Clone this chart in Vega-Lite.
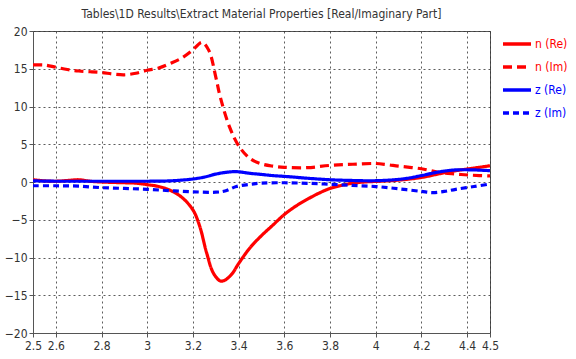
{
  "$schema": "https://vega.github.io/schema/vega-lite/v6.json",
  "autosize": "none",
  "width": 457,
  "height": 302,
  "padding": {"left": 33, "top": 31, "right": 86, "bottom": 26},
  "background": "white",
  "title": {"text": "Tables\\1D Results\\Extract Material Properties [Real/Imaginary Part]", "fontSize": 12, "fontWeight": "normal", "color": "#333333", "font": "DejaVu Sans Condensed", "anchor": "middle", "offset": 4},
  "config": {
    "view": {"stroke": "#555555", "strokeWidth": 1},
    "axis": {"labelFont": "DejaVu Sans Condensed", "labelFontSize": 12, "labelColor": "#333333", "domainColor": "#555555", "tickColor": "#555555", "tickSize": 4, "gridColor": "#333333", "gridDash": [2, 3], "gridOpacity": 0.8, "title": null},
    "legend": {"labelFont": "DejaVu Sans Condensed", "labelFontSize": 12}
  },
  "data": {"values": [
    {"x": 2.5, "y": 0.3, "s": "n (Re)"}, {"x": 2.55, "y": 0.15, "s": "n (Re)"}, {"x": 2.6, "y": 0.1, "s": "n (Re)"}, {"x": 2.65, "y": 0.2, "s": "n (Re)"}, {"x": 2.7, "y": 0.3, "s": "n (Re)"}, {"x": 2.75, "y": 0.1, "s": "n (Re)"}, {"x": 2.8, "y": 0.0, "s": "n (Re)"}, {"x": 2.9, "y": -0.1, "s": "n (Re)"}, {"x": 2.95, "y": -0.15, "s": "n (Re)"}, {"x": 3.0, "y": -0.35, "s": "n (Re)"}, {"x": 3.05, "y": -0.6, "s": "n (Re)"}, {"x": 3.1, "y": -1.1, "s": "n (Re)"}, {"x": 3.15, "y": -2.0, "s": "n (Re)"}, {"x": 3.2, "y": -3.7, "s": "n (Re)"}, {"x": 3.23, "y": -5.9, "s": "n (Re)"}, {"x": 3.26, "y": -9.4, "s": "n (Re)"}, {"x": 3.29, "y": -12.1, "s": "n (Re)"}, {"x": 3.32, "y": -13.1, "s": "n (Re)"}, {"x": 3.34, "y": -13.0, "s": "n (Re)"}, {"x": 3.37, "y": -12.2, "s": "n (Re)"}, {"x": 3.4, "y": -10.8, "s": "n (Re)"}, {"x": 3.45, "y": -8.7, "s": "n (Re)"}, {"x": 3.5, "y": -7.1, "s": "n (Re)"}, {"x": 3.55, "y": -5.7, "s": "n (Re)"}, {"x": 3.6, "y": -4.3, "s": "n (Re)"}, {"x": 3.65, "y": -3.2, "s": "n (Re)"}, {"x": 3.7, "y": -2.3, "s": "n (Re)"}, {"x": 3.75, "y": -1.5, "s": "n (Re)"}, {"x": 3.8, "y": -0.85, "s": "n (Re)"}, {"x": 3.85, "y": -0.45, "s": "n (Re)"}, {"x": 3.9, "y": -0.15, "s": "n (Re)"}, {"x": 3.95, "y": 0.0, "s": "n (Re)"}, {"x": 4.0, "y": 0.08, "s": "n (Re)"}, {"x": 4.1, "y": 0.25, "s": "n (Re)"}, {"x": 4.2, "y": 0.6, "s": "n (Re)"}, {"x": 4.28, "y": 1.1, "s": "n (Re)"}, {"x": 4.35, "y": 1.5, "s": "n (Re)"}, {"x": 4.42, "y": 1.8, "s": "n (Re)"}, {"x": 4.5, "y": 2.15, "s": "n (Re)"},
    {"x": 2.5, "y": 15.5, "s": "n (Im)"}, {"x": 2.55, "y": 15.5, "s": "n (Im)"}, {"x": 2.6, "y": 15.2, "s": "n (Im)"}, {"x": 2.65, "y": 14.9, "s": "n (Im)"}, {"x": 2.7, "y": 14.7, "s": "n (Im)"}, {"x": 2.75, "y": 14.6, "s": "n (Im)"}, {"x": 2.8, "y": 14.5, "s": "n (Im)"}, {"x": 2.85, "y": 14.3, "s": "n (Im)"}, {"x": 2.9, "y": 14.2, "s": "n (Im)"}, {"x": 2.95, "y": 14.4, "s": "n (Im)"}, {"x": 3.0, "y": 14.8, "s": "n (Im)"}, {"x": 3.05, "y": 15.1, "s": "n (Im)"}, {"x": 3.1, "y": 15.7, "s": "n (Im)"}, {"x": 3.15, "y": 16.4, "s": "n (Im)"}, {"x": 3.2, "y": 17.5, "s": "n (Im)"}, {"x": 3.24, "y": 18.5, "s": "n (Im)"}, {"x": 3.27, "y": 17.4, "s": "n (Im)"}, {"x": 3.3, "y": 13.9, "s": "n (Im)"}, {"x": 3.32, "y": 11.2, "s": "n (Im)"}, {"x": 3.36, "y": 7.3, "s": "n (Im)"}, {"x": 3.4, "y": 4.8, "s": "n (Im)"}, {"x": 3.45, "y": 3.1, "s": "n (Im)"}, {"x": 3.5, "y": 2.4, "s": "n (Im)"}, {"x": 3.55, "y": 2.1, "s": "n (Im)"}, {"x": 3.6, "y": 1.95, "s": "n (Im)"}, {"x": 3.7, "y": 1.9, "s": "n (Im)"}, {"x": 3.8, "y": 2.2, "s": "n (Im)"}, {"x": 3.9, "y": 2.35, "s": "n (Im)"}, {"x": 4.0, "y": 2.45, "s": "n (Im)"}, {"x": 4.05, "y": 2.3, "s": "n (Im)"}, {"x": 4.1, "y": 2.1, "s": "n (Im)"}, {"x": 4.2, "y": 1.75, "s": "n (Im)"}, {"x": 4.28, "y": 1.25, "s": "n (Im)"}, {"x": 4.35, "y": 1.05, "s": "n (Im)"}, {"x": 4.42, "y": 0.9, "s": "n (Im)"}, {"x": 4.5, "y": 0.8, "s": "n (Im)"},
    {"x": 2.5, "y": 0.15, "s": "z (Re)"}, {"x": 2.6, "y": 0.1, "s": "z (Re)"}, {"x": 2.7, "y": 0.1, "s": "z (Re)"}, {"x": 2.8, "y": 0.1, "s": "z (Re)"}, {"x": 2.9, "y": 0.1, "s": "z (Re)"}, {"x": 3.0, "y": 0.1, "s": "z (Re)"}, {"x": 3.1, "y": 0.15, "s": "z (Re)"}, {"x": 3.15, "y": 0.25, "s": "z (Re)"}, {"x": 3.2, "y": 0.4, "s": "z (Re)"}, {"x": 3.25, "y": 0.65, "s": "z (Re)"}, {"x": 3.3, "y": 1.05, "s": "z (Re)"}, {"x": 3.35, "y": 1.3, "s": "z (Re)"}, {"x": 3.39, "y": 1.37, "s": "z (Re)"}, {"x": 3.45, "y": 1.15, "s": "z (Re)"}, {"x": 3.5, "y": 1.0, "s": "z (Re)"}, {"x": 3.55, "y": 0.85, "s": "z (Re)"}, {"x": 3.62, "y": 0.7, "s": "z (Re)"}, {"x": 3.7, "y": 0.5, "s": "z (Re)"}, {"x": 3.8, "y": 0.3, "s": "z (Re)"}, {"x": 3.9, "y": 0.2, "s": "z (Re)"}, {"x": 4.0, "y": 0.17, "s": "z (Re)"}, {"x": 4.1, "y": 0.35, "s": "z (Re)"}, {"x": 4.15, "y": 0.55, "s": "z (Re)"}, {"x": 4.2, "y": 0.85, "s": "z (Re)"}, {"x": 4.28, "y": 1.35, "s": "z (Re)"}, {"x": 4.35, "y": 1.6, "s": "z (Re)"}, {"x": 4.43, "y": 1.6, "s": "z (Re)"}, {"x": 4.5, "y": 1.5, "s": "z (Re)"},
    {"x": 2.5, "y": -0.5, "s": "z (Im)"}, {"x": 2.6, "y": -0.5, "s": "z (Im)"}, {"x": 2.7, "y": -0.55, "s": "z (Im)"}, {"x": 2.8, "y": -0.75, "s": "z (Im)"}, {"x": 2.9, "y": -0.85, "s": "z (Im)"}, {"x": 3.0, "y": -0.97, "s": "z (Im)"}, {"x": 3.1, "y": -1.15, "s": "z (Im)"}, {"x": 3.2, "y": -1.3, "s": "z (Im)"}, {"x": 3.3, "y": -1.35, "s": "z (Im)"}, {"x": 3.34, "y": -1.2, "s": "z (Im)"}, {"x": 3.39, "y": -0.6, "s": "z (Im)"}, {"x": 3.45, "y": -0.3, "s": "z (Im)"}, {"x": 3.5, "y": -0.15, "s": "z (Im)"}, {"x": 3.6, "y": -0.1, "s": "z (Im)"}, {"x": 3.7, "y": -0.17, "s": "z (Im)"}, {"x": 3.8, "y": -0.3, "s": "z (Im)"}, {"x": 3.9, "y": -0.45, "s": "z (Im)"}, {"x": 4.0, "y": -0.6, "s": "z (Im)"}, {"x": 4.1, "y": -0.9, "s": "z (Im)"}, {"x": 4.2, "y": -1.25, "s": "z (Im)"}, {"x": 4.25, "y": -1.4, "s": "z (Im)"}, {"x": 4.3, "y": -1.25, "s": "z (Im)"}, {"x": 4.35, "y": -0.97, "s": "z (Im)"}, {"x": 4.43, "y": -0.6, "s": "z (Im)"}, {"x": 4.5, "y": -0.26, "s": "z (Im)"}
  ]},
  "mark": {"type": "line", "interpolate": "catmull-rom", "strokeWidth": 3.2, "clip": true},
  "encoding": {
    "x": {"field": "x", "type": "quantitative", "scale": {"domain": [2.5, 4.5], "nice": false, "zero": false}, "axis": {"values": [2.5, 2.6, 2.8, 3, 3.2, 3.4, 3.6, 3.8, 4, 4.2, 4.4, 4.5], "format": "~g", "labelFlush": false, "labelPadding": 3}},
    "y": {"field": "y", "type": "quantitative", "scale": {"domain": [-20, 20], "nice": false}, "axis": {"values": [-20, -15, -10, -5, 0, 5, 10, 15, 20], "labelPadding": 2}},
    "color": {"field": "s", "type": "nominal", "sort": ["n (Re)", "n (Im)", "z (Re)", "z (Im)"], "scale": {"domain": ["n (Re)", "n (Im)", "z (Re)", "z (Im)"], "range": ["#ff0000", "#ff0000", "#0000ff", "#0000ff"]},
      "legend": {"title": null, "orient": "none", "legendX": 468, "legendY": -3, "symbolType": "stroke", "symbolSize": 784, "symbolStrokeWidth": 3.5, "rowPadding": -8, "labelOffset": 2,
        "encode": {"labels": {"update": {"fill": {"signal": "indexof(datum.value, 'n') == 0 ? '#ff0000' : '#0000ff'"}}}}}},
    "strokeDash": {"field": "s", "type": "nominal", "sort": ["n (Re)", "n (Im)", "z (Re)", "z (Im)"], "scale": {"domain": ["n (Re)", "n (Im)", "z (Re)", "z (Im)"], "range": [[1, 0], [9, 5], [1, 0], [6, 4]]}, "legend": null}
  }
}
